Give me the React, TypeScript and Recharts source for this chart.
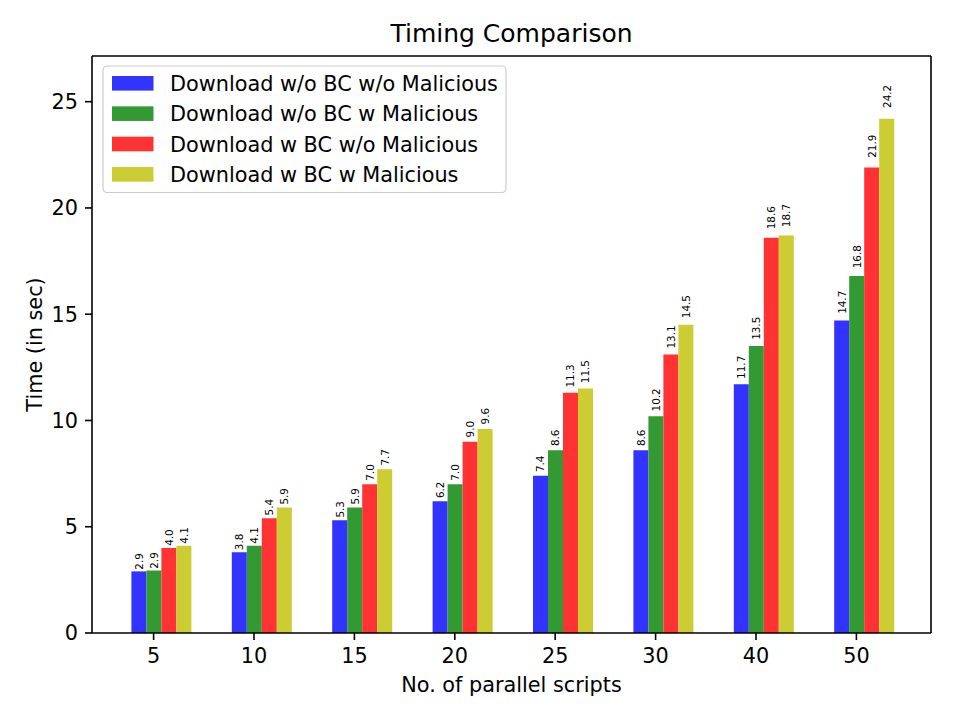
import React from 'react';
import { BarChart, Bar, XAxis, YAxis, Legend, LabelList } from 'recharts';

const categories = ['5', '10', '15', '20', '25', '30', '40', '50'];
const noBcNoMal = [2.9, 3.8, 5.3, 6.2, 7.4, 8.6, 11.7, 14.7];
const noBcMal = [2.94, 4.1, 5.9, 7.0, 8.6, 10.2, 13.5, 16.8];
const bcNoMal = [4.0, 5.4, 7.0, 9.0, 11.3, 13.1, 18.6, 21.9];
const bcMal = [4.1, 5.9, 7.7, 9.6, 11.5, 14.5, 18.7, 24.2];
const yTicks = [0, 5, 10, 15, 20, 25];
const yMax = 27.15;

const seriesKeys = ['s1', 's2', 's3', 's4'];
const seriesNames = [
  'Download w/o BC w/o Malicious',
  'Download w/o BC w Malicious',
  'Download w BC w/o Malicious',
  'Download w BC w Malicious',
];
const seriesColors = ['#3333ff', '#339933', '#ff3333', '#cccc33'];

const data = categories.map((c, i) => ({
  cat: c,
  spacer: 0,
  s1: noBcNoMal[i],
  s2: noBcMal[i],
  s3: bcNoMal[i],
  s4: bcMal[i],
}));

const FONT = '"DejaVu Sans", Verdana, sans-serif';

const ValueLabel = (props: any) => {
  const { x, y, width, height, value } = props;
  if (value == null) return null;
  const cx = Number(x) + Number(width) / 2;
  const ty = Number(y) - 0.02 * Number(height) - 0.5;
  return (
    <text
      x={cx}
      y={ty}
      transform={`rotate(-90, ${cx}, ${ty})`}
      textAnchor="start"
      dominantBaseline="central"
      fontSize={10.4}
      fontFamily={FONT}
      fill="#000"
    >
      {Number(value).toFixed(1)}
    </text>
  );
};

const renderLegend = () => (
  <svg width={406} height={130} style={{ display: 'block' }}>
    <rect x={1} y={1} width={403} height={126.5} rx={4} ry={4} fill="#fff" fillOpacity={0.8} stroke="#cccccc" strokeWidth={1.2} />
    {seriesNames.map((name, i) => {
      const cy = 18.3 + i * 30.35;
      return (
        <g key={name}>
          <rect x={10} y={cy - 7.3} width={41.5} height={14.6} fill={seriesColors[i]} />
          <text x={68} y={cy + 7.7} fontSize={20.8} fontFamily={FONT} fill="#000">
            {name}
          </text>
        </g>
      );
    })}
  </svg>
);

const axisStyle = { stroke: '#000', strokeWidth: 1.6 };
const tickStyle = { fontSize: 20.8, fontFamily: FONT, fill: '#000' };

export default function App() {
  return (
    <div style={{ position: 'absolute', left: 0, top: 0, width: 960, height: 720, background: '#fff' }}>
      <BarChart
        width={960}
        height={720}
        data={data}
        margin={{ top: 55, right: 28, bottom: 57, left: 32 }}
        barSize={15}
        barGap={0}
      >
        <XAxis
          dataKey="cat"
          padding={{ left: 11.4, right: 24.4 }}
          height={30}
          tickSize={7}
          tickMargin={8.5}
          axisLine={axisStyle}
          tickLine={axisStyle}
          tick={tickStyle}
          interval={0}
        />
        <XAxis
          xAxisId="top"
          dataKey="cat"
          orientation="top"
          height={1}
          tick={false}
          tickLine={false}
          axisLine={axisStyle}
          padding={{ left: 11.4, right: 24.4 }}
        />
        <YAxis
          type="number"
          domain={[0, yMax]}
          ticks={yTicks}
          width={60}
          tickSize={7}
          tickMargin={7}
          axisLine={axisStyle}
          tickLine={axisStyle}
          tick={tickStyle}
          allowDataOverflow
        />
        <YAxis
          yAxisId="right"
          orientation="right"
          type="number"
          width={1}
          tick={false}
          tickLine={false}
          axisLine={axisStyle}
          domain={[0, yMax]}
        />
        <Legend
          layout="horizontal"
          verticalAlign="middle"
          align="center"
          content={renderLegend}
          wrapperStyle={{ position: 'absolute', left: 102, top: 65, width: 406, height: 130 }}
        />
        <Bar dataKey="spacer" fill="none" isAnimationActive={false} legendType="none" />
        {seriesKeys.map((k, i) => (
          <Bar key={k} dataKey={k} name={seriesNames[i]} fill={seriesColors[i]} isAnimationActive={false}>
            <LabelList dataKey={k} content={ValueLabel} />
          </Bar>
        ))}
      </BarChart>
      <svg
        width={960}
        height={720}
        style={{ position: 'absolute', left: 0, top: 0, pointerEvents: 'none' }}
      >
        <text x={511.5} y={41.7} textAnchor="middle" fontSize={25} fontFamily={FONT} fill="#000">
          Timing Comparison
        </text>
        <text x={511.5} y={692} textAnchor="middle" fontSize={20.8} fontFamily={FONT} fill="#000">
          No. of parallel scripts
        </text>
        <text
          x={41.5}
          y={344.5}
          transform="rotate(-90, 41.5, 344.5)"
          textAnchor="middle"
          fontSize={20.8}
          fontFamily={FONT}
          fill="#000"
        >
          Time (in sec)
        </text>
      </svg>
    </div>
  );
}
